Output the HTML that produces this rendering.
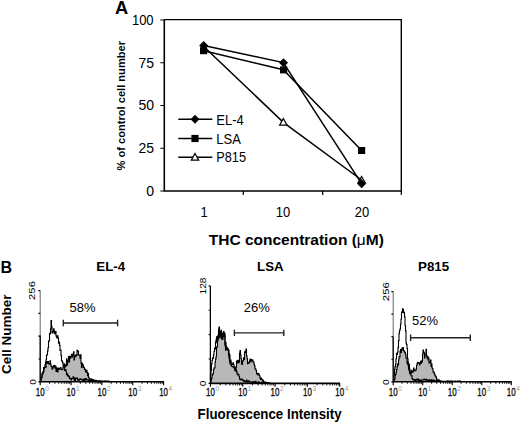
<!DOCTYPE html>
<html><head><meta charset="utf-8">
<style>
html,body{margin:0;padding:0;background:#fff;}
body{width:520px;height:422px;overflow:hidden;}
svg{display:block;}
text{font-family:"Liberation Sans",sans-serif;fill:#000;}
.b{font-weight:bold;}
</style></head><body>
<svg width="520" height="422" viewBox="0 0 520 422">
<!-- ===== Panel A ===== -->
<text x="114.9" y="14.2" class="b" font-size="18.3">A</text>
<!-- plot frame -->
<g stroke="#000" fill="none">
<path d="M164.3,19.6 H401.3 V191" stroke-width="1.4"/>
<path d="M164.3,19.4 V191 H401.3" stroke-width="1.6"/>
<path d="M160.3,20H164.3M160.3,62.75H164.3M160.3,105.5H164.3M160.3,148.25H164.3M160.3,191H164.3" stroke-width="1.1"/>
<path d="M243.3,191V195M322.7,191V195M401.3,191V195" stroke-width="1.2"/>
</g>
<g font-size="13" text-anchor="end">
<text transform="translate(153.6,24.9) scale(1,1.1)">100</text>
<text transform="translate(154.1,67.7) scale(1.08,1.1)">75</text>
<text transform="translate(154.1,110.4) scale(1.08,1.1)">50</text>
<text transform="translate(154.1,153.3) scale(1.08,1.1)">25</text>
<text transform="translate(154.1,196) scale(1.08,1.1)">0</text>
</g>
<g font-size="13" text-anchor="middle">
<text transform="translate(204,216.5) scale(1,1.1)">1</text>
<text transform="translate(283,216.5) scale(1,1.1)">10</text>
<text transform="translate(362,216.5) scale(1,1.1)">20</text>
</g>
<text x="296.3" y="245.2" class="b" font-size="15.5" text-anchor="middle">THC concentration (<tspan font-weight="normal">μ</tspan>M)</text>
<text transform="translate(124.9,105.7) rotate(-90)" class="b" font-size="11.1" text-anchor="middle">% of control cell number</text>
<!-- series lines -->
<g stroke="#000" stroke-width="1.5" fill="none">
<polyline points="203.7,45.6 283.3,62.6 361.6,183.7"/>
<polyline points="203.7,50.7 283.3,69.8 361.6,150.4"/>
<polyline points="203.7,46.5 283.3,122.3 361.6,180"/>
</g>
<!-- markers -->
<g fill="#000">
<path d="M203.7,41 L208.2,45.6 L203.7,50.2 L199.2,45.6Z"/>
<path d="M283.5,58.3 L288,62.8 L283.5,67.3 L279,62.8Z"/>
<path d="M361.6,179.3 L366,183.8 L361.6,188.3 L357.2,183.8Z"/>
<rect x="200" y="47.2" width="7.2" height="7"/>
<rect x="280" y="66.4" width="7.2" height="7"/>
<rect x="358" y="147" width="7.2" height="7"/>
</g>
<g fill="#fff" stroke="#000" stroke-width="1.2">
<path d="M283.3,118.5 L287,125.2 L279.6,125.2Z"/>
<path d="M361.6,176.5 L365.3,183 L357.9,183Z" fill="none"/>
</g>
<!-- legend -->
<g stroke="#000" stroke-width="1.5">
<path d="M178.3,119.2H212.3M178.3,138.5H212.3M178.3,157.3H212.3"/>
</g>
<path d="M195,114.7 L199.5,119.2 L195,123.7 L190.5,119.2Z" fill="#000"/>
<rect x="191.4" y="134.9" width="7.2" height="7.2" fill="#000"/>
<path d="M195,153.5 L198.7,160.2 L191.3,160.2Z" fill="#fff" stroke="#000" stroke-width="1.2"/>
<g font-size="13.4">
<text transform="translate(216.3,124.6) scale(0.97,1.08)">EL-4</text>
<text transform="translate(216.3,143.7) scale(0.97,1.08)">LSA</text>
<text transform="translate(216.3,162.3) scale(0.95,1.08)">P815</text>
</g>

<!-- ===== Panel B ===== -->
<text x="0.5" y="273.2" class="b" font-size="16">B</text>
<text transform="translate(11.2,334.2) rotate(-90)" class="b" font-size="13.5" text-anchor="middle">Cell Number</text>
<text transform="translate(269.6,418.6) scale(1,1.06)" class="b" font-size="13.3" text-anchor="middle">Fluorescence Intensity</text>
<g class="b" font-size="13.3" text-anchor="middle">
<text x="110.7" y="270.8">EL-4</text>
<text x="270.4" y="271.3">LSA</text>
<text x="433.6" y="271.2">P815</text>
</g>
<g font-size="13" text-anchor="middle">
<text x="82.5" y="311.8">58%</text>
<text x="256.7" y="312.2">26%</text>
<text x="425" y="325.2">52%</text>
</g>
<!-- gates -->
<g stroke="#222" stroke-width="1.4" fill="none">
<path d="M63.3,323H117.6M63.3,319.8V326.2M117.6,319.8V326.2"/>
<path d="M234.4,332.9H283.8M234.4,329.7V336.1M283.8,329.7V336.1"/>
<path d="M410.6,337.8H470.3M410.6,334.6V341M470.3,334.6V341"/>
</g>

<g id="hists">
<polygon points="40.5,381.8 40.5,380.47 41,380.47 41,377.69 41.5,377.69 41.5,377.35 42,377.35 42,373.42 42.5,373.42 42.5,373.25 43,373.25 43,371.68 43.5,371.68 43.5,367.44 44,367.44 44,368.14 44.5,368.14 44.5,367.09 45,367.09 45,364.67 45.5,364.67 45.5,362.31 46,362.31 46,363.41 46.5,363.41 46.5,361.54 47,361.54 47,363.25 47.5,363.25 47.5,361.69 48,361.69 48,361.51 48.5,361.51 48.5,363.67 49,363.67 49,364.29 49.5,364.29 49.5,363.59 50,363.59 50,360.69 50.5,360.69 50.5,364.26 51,364.26 51,366.26 51.5,366.26 51.5,366.4 52,366.4 52,369.3 52.5,369.3 52.5,368.13 53,368.13 53,366.95 53.5,366.95 53.5,365.47 54,365.47 54,366.96 54.5,366.96 54.5,365.58 55,365.58 55,368.27 55.5,368.27 55.5,366.42 56,366.42 56,371.37 56.5,371.37 56.5,371.43 57,371.43 57,368.02 57.5,368.02 57.5,371.93 58,371.93 58,367.98 58.5,367.98 58.5,368.58 59,368.58 59,369.4 59.5,369.4 59.5,368.41 60,368.41 60,368.33 60.5,368.33 60.5,367.67 61,367.67 61,369.29 61.5,369.29 61.5,369.76 62,369.76 62,369.37 62.5,369.37 62.5,369.08 63,369.08 63,367 63.5,367 63.5,367.22 64,367.22 64,363.82 64.5,363.82 64.5,367.43 65,367.43 65,365.65 65.5,365.65 65.5,364.79 66,364.79 66,365.88 66.5,365.88 66.5,358.89 67,358.89 67,365.03 67.5,365.03 67.5,360.88 68,360.88 68,360.63 68.5,360.63 68.5,356.51 69,356.51 69,362.19 69.5,362.19 69.5,356.36 70,356.36 70,358.48 70.5,358.48 70.5,356.61 71,356.61 71,356.99 71.5,356.99 71.5,354.23 72,354.23 72,357.25 72.5,357.25 72.5,355.1 73,355.1 73,354.15 73.5,354.15 73.5,351.82 74,351.82 74,359.83 74.5,359.83 74.5,355.9 75,355.9 75,355.8 75.5,355.8 75.5,356.65 76,356.65 76,354.64 76.5,354.64 76.5,355.4 77,355.4 77,350.41 77.5,350.41 77.5,351.41 78,351.41 78,350.93 78.5,350.93 78.5,354.92 79,354.92 79,355.25 79.5,355.25 79.5,355.52 80,355.52 80,358.4 80.5,358.4 80.5,354.82 81,354.82 81,363.17 81.5,363.17 81.5,367.42 82,367.42 82,363.39 82.5,363.39 82.5,364.79 83,364.79 83,365.3 83.5,365.3 83.5,367.35 84,367.35 84,367.9 84.5,367.9 84.5,369.39 85,369.39 85,369.37 85.5,369.37 85.5,371.53 86,371.53 86,372.27 86.5,372.27 86.5,370.38 87,370.38 87,372.54 87.5,372.54 87.5,375.7 88,375.7 88,373.38 88.5,373.38 88.5,377.37 89,377.37 89,378.84 89.5,378.84 89.5,379.58 90,379.58 90,378.81 90.5,378.81 90.5,379.95 91,379.95 91,380.36 91.5,380.36 91.5,380.6 92,380.6 92,380.27 92.5,380.27 92.5,379.54 93,379.54 93,380.44 93.5,380.44 93.5,381.02 94,381.02 94,380.23 94.5,380.23 94.5,380.7 95,380.7 95,380.57 95.5,380.57 95.5,380.65 96,380.65 96,381.26 96.5,381.26 96.5,381.31 97,381.31 97,381.31 97.5,381.31 97.5,381.72 98,381.72 98,381.14 98.5,381.14 98.5,380.95 99,380.95 99,381.39 99.5,381.39 99.5,381.56 100,381.56 100,381.8" fill="#b8b8b8" stroke="none"/>
<polyline points="40.5,381.8 40.5,380.47 41,380.47 41,377.69 41.5,377.69 41.5,377.35 42,377.35 42,373.42 42.5,373.42 42.5,373.25 43,373.25 43,371.68 43.5,371.68 43.5,367.44 44,367.44 44,368.14 44.5,368.14 44.5,367.09 45,367.09 45,364.67 45.5,364.67 45.5,362.31 46,362.31 46,363.41 46.5,363.41 46.5,361.54 47,361.54 47,363.25 47.5,363.25 47.5,361.69 48,361.69 48,361.51 48.5,361.51 48.5,363.67 49,363.67 49,364.29 49.5,364.29 49.5,363.59 50,363.59 50,360.69 50.5,360.69 50.5,364.26 51,364.26 51,366.26 51.5,366.26 51.5,366.4 52,366.4 52,369.3 52.5,369.3 52.5,368.13 53,368.13 53,366.95 53.5,366.95 53.5,365.47 54,365.47 54,366.96 54.5,366.96 54.5,365.58 55,365.58 55,368.27 55.5,368.27 55.5,366.42 56,366.42 56,371.37 56.5,371.37 56.5,371.43 57,371.43 57,368.02 57.5,368.02 57.5,371.93 58,371.93 58,367.98 58.5,367.98 58.5,368.58 59,368.58 59,369.4 59.5,369.4 59.5,368.41 60,368.41 60,368.33 60.5,368.33 60.5,367.67 61,367.67 61,369.29 61.5,369.29 61.5,369.76 62,369.76 62,369.37 62.5,369.37 62.5,369.08 63,369.08 63,367 63.5,367 63.5,367.22 64,367.22 64,363.82 64.5,363.82 64.5,367.43 65,367.43 65,365.65 65.5,365.65 65.5,364.79 66,364.79 66,365.88 66.5,365.88 66.5,358.89 67,358.89 67,365.03 67.5,365.03 67.5,360.88 68,360.88 68,360.63 68.5,360.63 68.5,356.51 69,356.51 69,362.19 69.5,362.19 69.5,356.36 70,356.36 70,358.48 70.5,358.48 70.5,356.61 71,356.61 71,356.99 71.5,356.99 71.5,354.23 72,354.23 72,357.25 72.5,357.25 72.5,355.1 73,355.1 73,354.15 73.5,354.15 73.5,351.82 74,351.82 74,359.83 74.5,359.83 74.5,355.9 75,355.9 75,355.8 75.5,355.8 75.5,356.65 76,356.65 76,354.64 76.5,354.64 76.5,355.4 77,355.4 77,350.41 77.5,350.41 77.5,351.41 78,351.41 78,350.93 78.5,350.93 78.5,354.92 79,354.92 79,355.25 79.5,355.25 79.5,355.52 80,355.52 80,358.4 80.5,358.4 80.5,354.82 81,354.82 81,363.17 81.5,363.17 81.5,367.42 82,367.42 82,363.39 82.5,363.39 82.5,364.79 83,364.79 83,365.3 83.5,365.3 83.5,367.35 84,367.35 84,367.9 84.5,367.9 84.5,369.39 85,369.39 85,369.37 85.5,369.37 85.5,371.53 86,371.53 86,372.27 86.5,372.27 86.5,370.38 87,370.38 87,372.54 87.5,372.54 87.5,375.7 88,375.7 88,373.38 88.5,373.38 88.5,377.37 89,377.37 89,378.84 89.5,378.84 89.5,379.58 90,379.58 90,378.81 90.5,378.81 90.5,379.95 91,379.95 91,380.36 91.5,380.36 91.5,380.6 92,380.6 92,380.27 92.5,380.27 92.5,379.54 93,379.54 93,380.44 93.5,380.44 93.5,381.02 94,381.02 94,380.23 94.5,380.23 94.5,380.7 95,380.7 95,380.57 95.5,380.57 95.5,380.65 96,380.65 96,381.26 96.5,381.26 96.5,381.31 97,381.31 97,381.31 97.5,381.31 97.5,381.72 98,381.72 98,381.14 98.5,381.14 98.5,380.95 99,380.95 99,381.39 99.5,381.39 99.5,381.56 100,381.56 100,381.8" fill="none" stroke="#000" stroke-width="1.1" stroke-linejoin="miter"/>
<polyline points="40.5,381.8 40.5,380.64 41,380.64 41,379.07 41.5,379.07 41.5,377.24 42,377.24 42,374.79 42.5,374.79 42.5,373.87 43,373.87 43,371.89 43.5,371.89 43.5,371.75 44,371.75 44,367.88 44.5,367.88 44.5,366.96 45,366.96 45,367.35 45.5,367.35 45.5,367.44 46,367.44 46,359.81 46.5,359.81 46.5,355.22 47,355.22 47,354.77 47.5,354.77 47.5,350.84 48,350.84 48,347.81 48.5,347.81 48.5,341.53 49,341.53 49,340.62 49.5,340.62 49.5,333.38 50,333.38 50,333.94 50.5,333.94 50.5,328.68 51,328.68 51,320.61 51.5,320.61 51.5,326.61 52,326.61 52,332.78 52.5,332.78 52.5,333.01 53,333.01 53,331.59 53.5,331.59 53.5,328.84 54,328.84 54,330.86 54.5,330.86 54.5,333.73 55,333.73 55,332.44 55.5,332.44 55.5,331.6 56,331.6 56,335.86 56.5,335.86 56.5,337.27 57,337.27 57,337.86 57.5,337.86 57.5,335.73 58,335.73 58,338.08 58.5,338.08 58.5,343.21 59,343.21 59,341.98 59.5,341.98 59.5,345.34 60,345.34 60,350.52 60.5,350.52 60.5,350.13 61,350.13 61,355.37 61.5,355.37 61.5,360.61 62,360.61 62,361.27 62.5,361.27 62.5,362.64 63,362.64 63,365.81 63.5,365.81 63.5,366.29 64,366.29 64,366.47 64.5,366.47 64.5,370.37 65,370.37 65,369.47 65.5,369.47 65.5,369.61 66,369.61 66,371.69 66.5,371.69 66.5,374.82 67,374.82 67,373.68 67.5,373.68 67.5,375.93 68,375.93 68,375.37 68.5,375.37 68.5,376.12 69,376.12 69,376.83 69.5,376.83 69.5,378.39 70,378.39 70,378.77 70.5,378.77 70.5,378.36 71,378.36 71,379.91 71.5,379.91 71.5,378.82 72,378.82 72,378.54 72.5,378.54 72.5,378.81 73,378.81 73,376.87 73.5,376.87 73.5,378.83 74,378.83 74,377.79 74.5,377.79 74.5,380.58 75,380.58 75,380.67 75.5,380.67 75.5,378.31 76,378.31 76,378.13 76.5,378.13 76.5,378.41 77,378.41 77,378.04 77.5,378.04 77.5,379.94 78,379.94 78,379.52 78.5,379.52 78.5,380.17 79,380.17 79,379.83 79.5,379.83 79.5,378.98 80,378.98 80,379.27 80.5,379.27 80.5,378.87 81,378.87 81,379.44 81.5,379.44 81.5,379.71 82,379.71 82,379.69 82.5,379.69 82.5,380.2 83,380.2 83,379.49 83.5,379.49 83.5,380.49 84,380.49 84,378.88 84.5,378.88 84.5,380.34 85,380.34 85,379.07 85.5,379.07 85.5,380.01 86,380.01 86,378.53 86.5,378.53 86.5,379.67 87,379.67 87,379.7 87.5,379.7 87.5,379.7 88,379.7 88,380.57 88.5,380.57 88.5,380.92 89,380.92 89,381.42 89.5,381.42 89.5,379.78 90,379.78 90,380.64 90.5,380.64 90.5,380.51 91,380.51 91,380.14 91.5,380.14 91.5,379 92,379 92,380.92 92.5,380.92 92.5,380.13 93,380.13 93,380.61 93.5,380.61 93.5,380.34 94,380.34 94,381.53 94.5,381.53 94.5,381.08 95,381.08 95,380.66 95.5,380.66 95.5,380.42 96,380.42 96,380.43 96.5,380.43 96.5,381.4 97,381.4 97,381.07 97.5,381.07 97.5,381.15 98,381.15 98,381.65 98.5,381.65 98.5,381.69 99,381.69 99,380.89 99.5,380.89 99.5,381.1 100,381.1 100,381.25 100.5,381.25 100.5,380.78 101,380.78 101,381.6 101.5,381.6 101.5,381.06 102,381.06 102,381.26 102.5,381.26 102.5,381.3 103,381.3 103,381.13 103.5,381.13 103.5,381.25 104,381.25 104,381.24 104.5,381.24 104.5,381.25 105,381.25 105,380.7 105.5,380.7 105.5,381.48 106,381.48 106,381.05 106.5,381.05 106.5,381.2 107,381.2 107,381.53 107.5,381.53 107.5,381.17 108,381.17 108,381.72 108.5,381.72 108.5,381.09 109,381.09 109,381.73 109.5,381.73 109.5,381.65 110,381.65 110,381.8" fill="none" stroke="#000" stroke-width="1.1" stroke-linejoin="miter"/>
<path d="M40.2,290.6V381.8" stroke="#666" stroke-width="1" fill="none"/>
<path d="M40.2,335.5V381.8" stroke="#000" stroke-width="1.2" fill="none"/>
<path d="M38.4,290.6H40.2M38.4,313.4H40.2M38.4,336.2H40.2M38.4,359H40.2M38.4,381.8H40.2" stroke="#000" stroke-width="1.2" fill="none"/>
<path d="M39.7,381.8H164" stroke="#000" stroke-width="1.6" fill="none"/>
<path d="M40.2,381.8V385.2M71.05,381.8V385.2M101.9,381.8V385.2M132.75,381.8V385.2M163.6,381.8V385.2" stroke="#000" stroke-width="1.1" fill="none"/>
<path d="M49.49,381.8V383.9M54.92,381.8V383.9M58.77,381.8V383.9M61.76,381.8V383.9M64.21,381.8V383.9M66.27,381.8V383.9M68.06,381.8V383.9M69.64,381.8V383.9M80.34,381.8V383.9M85.77,381.8V383.9M89.62,381.8V383.9M92.61,381.8V383.9M95.06,381.8V383.9M97.12,381.8V383.9M98.91,381.8V383.9M100.49,381.8V383.9M111.19,381.8V383.9M116.62,381.8V383.9M120.47,381.8V383.9M123.46,381.8V383.9M125.91,381.8V383.9M127.97,381.8V383.9M129.76,381.8V383.9M131.34,381.8V383.9M142.04,381.8V383.9M147.47,381.8V383.9M151.32,381.8V383.9M154.31,381.8V383.9M156.76,381.8V383.9M158.82,381.8V383.9M160.61,381.8V383.9M162.19,381.8V383.9" stroke="#000" stroke-width="0.85" fill="none"/>
<text transform="translate(40.2,395.8) scale(0.7,1)" font-size="11.4" text-anchor="middle" stroke="#000" stroke-width="0.3">10</text>
<text transform="translate(45.2,390.6) scale(0.85,1)" font-size="7.6" style="fill:#999">0</text>
<text transform="translate(71.05,395.8) scale(0.7,1)" font-size="11.4" text-anchor="middle" stroke="#000" stroke-width="0.3">10</text>
<text transform="translate(76.05,390.6) scale(0.85,1)" font-size="7.6" style="fill:#999">1</text>
<text transform="translate(101.9,395.8) scale(0.7,1)" font-size="11.4" text-anchor="middle" stroke="#000" stroke-width="0.3">10</text>
<text transform="translate(106.9,390.6) scale(0.85,1)" font-size="7.6" style="fill:#999">2</text>
<text transform="translate(132.75,395.8) scale(0.7,1)" font-size="11.4" text-anchor="middle" stroke="#000" stroke-width="0.3">10</text>
<text transform="translate(137.75,390.6) scale(0.85,1)" font-size="7.6" style="fill:#999">3</text>
<text transform="translate(163.6,395.8) scale(0.7,1)" font-size="11.4" text-anchor="middle" stroke="#000" stroke-width="0.3">10</text>
<text transform="translate(168.6,390.6) scale(0.85,1)" font-size="7.6" style="fill:#999">4</text>
<text transform="translate(35,290.5) rotate(-90) scale(1.25,1)" font-size="9.1" text-anchor="middle">256</text>
<text transform="translate(35.8,382) rotate(-90) scale(1.1,1)" font-size="9.2" text-anchor="middle">0</text>
<polygon points="210.5,383.4 210.5,382.34 211,382.34 211,380.31 211.5,380.31 211.5,378.14 212,378.14 212,375.7 212.5,375.7 212.5,374.52 213,374.52 213,373.25 213.5,373.25 213.5,369.46 214,369.46 214,368.11 214.5,368.11 214.5,367.77 215,367.77 215,362.06 215.5,362.06 215.5,359.16 216,359.16 216,356.2 216.5,356.2 216.5,347.58 217,347.58 217,346.45 217.5,346.45 217.5,340.08 218,340.08 218,335.1 218.5,335.1 218.5,336.83 219,336.83 219,328.3 219.5,328.3 219.5,337.67 220,337.67 220,331.89 220.5,331.89 220.5,334.43 221,334.43 221,331.44 221.5,331.44 221.5,339.31 222,339.31 222,337.47 222.5,337.47 222.5,333.63 223,333.63 223,332.69 223.5,332.69 223.5,336.54 224,336.54 224,333.34 224.5,333.34 224.5,335.88 225,335.88 225,344.41 225.5,344.41 225.5,342.31 226,342.31 226,349.18 226.5,349.18 226.5,347.88 227,347.88 227,347.73 227.5,347.73 227.5,348.51 228,348.51 228,349.65 228.5,349.65 228.5,355.23 229,355.23 229,358.44 229.5,358.44 229.5,355.28 230,355.28 230,364.06 230.5,364.06 230.5,362.08 231,362.08 231,364.1 231.5,364.1 231.5,366.09 232,366.09 232,366.56 232.5,366.56 232.5,366.43 233,366.43 233,366.98 233.5,366.98 233.5,367.12 234,367.12 234,367.72 234.5,367.72 234.5,368.35 235,368.35 235,369.97 235.5,369.97 235.5,368.93 236,368.93 236,367.25 236.5,367.25 236.5,360.98 237,360.98 237,363 237.5,363 237.5,360.72 238,360.72 238,360.29 238.5,360.29 238.5,362.62 239,362.62 239,361.99 239.5,361.99 239.5,353.09 240,353.09 240,350.59 240.5,350.59 240.5,354.92 241,354.92 241,358.46 241.5,358.46 241.5,363.7 242,363.7 242,364.45 242.5,364.45 242.5,361.32 243,361.32 243,360.5 243.5,360.5 243.5,357.73 244,357.73 244,359.49 244.5,359.49 244.5,352.32 245,352.32 245,351.34 245.5,351.34 245.5,352.61 246,352.61 246,348.95 246.5,348.95 246.5,355.87 247,355.87 247,358.82 247.5,358.82 247.5,363.73 248,363.73 248,362.26 248.5,362.26 248.5,362.76 249,362.76 249,363.01 249.5,363.01 249.5,361.06 250,361.06 250,359.05 250.5,359.05 250.5,361.8 251,361.8 251,359.59 251.5,359.59 251.5,359.72 252,359.72 252,360.63 252.5,360.63 252.5,360.14 253,360.14 253,362.27 253.5,362.27 253.5,362.17 254,362.17 254,364.36 254.5,364.36 254.5,366.1 255,366.1 255,368.69 255.5,368.69 255.5,369.05 256,369.05 256,370.45 256.5,370.45 256.5,373.96 257,373.96 257,373.19 257.5,373.19 257.5,373.52 258,373.52 258,375.04 258.5,375.04 258.5,373.57 259,373.57 259,375.24 259.5,375.24 259.5,375.96 260,375.96 260,378.09 260.5,378.09 260.5,379.44 261,379.44 261,378.05 261.5,378.05 261.5,379.21 262,379.21 262,379.5 262.5,379.5 262.5,380.28 263,380.28 263,380.31 263.5,380.31 263.5,381.7 264,381.7 264,381.73 264.5,381.73 264.5,382.7 265,382.7 265,383.4 265.5,383.4 265.5,382.82 266,382.82 266,382.24 266.5,382.24 266.5,383.4 267,383.4 267,383.4" fill="#b8b8b8" stroke="none"/>
<polyline points="210.5,383.4 210.5,382.34 211,382.34 211,380.31 211.5,380.31 211.5,378.14 212,378.14 212,375.7 212.5,375.7 212.5,374.52 213,374.52 213,373.25 213.5,373.25 213.5,369.46 214,369.46 214,368.11 214.5,368.11 214.5,367.77 215,367.77 215,362.06 215.5,362.06 215.5,359.16 216,359.16 216,356.2 216.5,356.2 216.5,347.58 217,347.58 217,346.45 217.5,346.45 217.5,340.08 218,340.08 218,335.1 218.5,335.1 218.5,336.83 219,336.83 219,328.3 219.5,328.3 219.5,337.67 220,337.67 220,331.89 220.5,331.89 220.5,334.43 221,334.43 221,331.44 221.5,331.44 221.5,339.31 222,339.31 222,337.47 222.5,337.47 222.5,333.63 223,333.63 223,332.69 223.5,332.69 223.5,336.54 224,336.54 224,333.34 224.5,333.34 224.5,335.88 225,335.88 225,344.41 225.5,344.41 225.5,342.31 226,342.31 226,349.18 226.5,349.18 226.5,347.88 227,347.88 227,347.73 227.5,347.73 227.5,348.51 228,348.51 228,349.65 228.5,349.65 228.5,355.23 229,355.23 229,358.44 229.5,358.44 229.5,355.28 230,355.28 230,364.06 230.5,364.06 230.5,362.08 231,362.08 231,364.1 231.5,364.1 231.5,366.09 232,366.09 232,366.56 232.5,366.56 232.5,366.43 233,366.43 233,366.98 233.5,366.98 233.5,367.12 234,367.12 234,367.72 234.5,367.72 234.5,368.35 235,368.35 235,369.97 235.5,369.97 235.5,368.93 236,368.93 236,367.25 236.5,367.25 236.5,360.98 237,360.98 237,363 237.5,363 237.5,360.72 238,360.72 238,360.29 238.5,360.29 238.5,362.62 239,362.62 239,361.99 239.5,361.99 239.5,353.09 240,353.09 240,350.59 240.5,350.59 240.5,354.92 241,354.92 241,358.46 241.5,358.46 241.5,363.7 242,363.7 242,364.45 242.5,364.45 242.5,361.32 243,361.32 243,360.5 243.5,360.5 243.5,357.73 244,357.73 244,359.49 244.5,359.49 244.5,352.32 245,352.32 245,351.34 245.5,351.34 245.5,352.61 246,352.61 246,348.95 246.5,348.95 246.5,355.87 247,355.87 247,358.82 247.5,358.82 247.5,363.73 248,363.73 248,362.26 248.5,362.26 248.5,362.76 249,362.76 249,363.01 249.5,363.01 249.5,361.06 250,361.06 250,359.05 250.5,359.05 250.5,361.8 251,361.8 251,359.59 251.5,359.59 251.5,359.72 252,359.72 252,360.63 252.5,360.63 252.5,360.14 253,360.14 253,362.27 253.5,362.27 253.5,362.17 254,362.17 254,364.36 254.5,364.36 254.5,366.1 255,366.1 255,368.69 255.5,368.69 255.5,369.05 256,369.05 256,370.45 256.5,370.45 256.5,373.96 257,373.96 257,373.19 257.5,373.19 257.5,373.52 258,373.52 258,375.04 258.5,375.04 258.5,373.57 259,373.57 259,375.24 259.5,375.24 259.5,375.96 260,375.96 260,378.09 260.5,378.09 260.5,379.44 261,379.44 261,378.05 261.5,378.05 261.5,379.21 262,379.21 262,379.5 262.5,379.5 262.5,380.28 263,380.28 263,380.31 263.5,380.31 263.5,381.7 264,381.7 264,381.73 264.5,381.73 264.5,382.7 265,382.7 265,383.4 265.5,383.4 265.5,382.82 266,382.82 266,382.24 266.5,382.24 266.5,383.4 267,383.4 267,383.4" fill="none" stroke="#000" stroke-width="1.1" stroke-linejoin="miter"/>
<polyline points="210.5,383.4 210.5,375 211,375 211,370.21 211.5,370.21 211.5,363.89 212,363.89 212,360.34 212.5,360.34 212.5,357.83 213,357.83 213,358.41 213.5,358.41 213.5,354.7 214,354.7 214,351.44 214.5,351.44 214.5,348.04 215,348.04 215,348.85 215.5,348.85 215.5,341.95 216,341.95 216,339.74 216.5,339.74 216.5,336.79 217,336.79 217,342.87 217.5,342.87 217.5,336.59 218,336.59 218,339 218.5,339 218.5,330.6 219,330.6 219,326.95 219.5,326.95 219.5,334.27 220,334.27 220,336.74 220.5,336.74 220.5,331.84 221,331.84 221,330.31 221.5,330.31 221.5,335.99 222,335.99 222,335.02 222.5,335.02 222.5,339.31 223,339.31 223,334.28 223.5,334.28 223.5,331.53 224,331.53 224,334.51 224.5,334.51 224.5,333.41 225,333.41 225,346.05 225.5,346.05 225.5,350.28 226,350.28 226,345.97 226.5,345.97 226.5,348.95 227,348.95 227,348.73 227.5,348.73 227.5,348.94 228,348.94 228,350.61 228.5,350.61 228.5,350.3 229,350.3 229,353.76 229.5,353.76 229.5,362.02 230,362.02 230,361.8 230.5,361.8 230.5,359.99 231,359.99 231,365.15 231.5,365.15 231.5,364.43 232,364.43 232,364.42 232.5,364.42 232.5,364.07 233,364.07 233,362.72 233.5,362.72 233.5,364.74 234,364.74 234,367.77 234.5,367.77 234.5,366.73 235,366.73 235,371.02 235.5,371.02 235.5,371.05 236,371.05 236,369.81 236.5,369.81 236.5,371.65 237,371.65 237,374.24 237.5,374.24 237.5,373.72 238,373.72 238,375.07 238.5,375.07 238.5,374.74 239,374.74 239,376.56 239.5,376.56 239.5,378.59 240,378.59 240,379.67 240.5,379.67 240.5,379.73 241,379.73 241,380.05 241.5,380.05 241.5,379.15 242,379.15 242,379.36 242.5,379.36 242.5,379.81 243,379.81 243,380.69 243.5,380.69 243.5,381.32 244,381.32 244,380.65 244.5,380.65 244.5,381.34 245,381.34 245,380.97 245.5,380.97 245.5,382.06 246,382.06 246,381.3 246.5,381.3 246.5,380.16 247,380.16 247,381.61 247.5,381.61 247.5,382.1 248,382.1 248,381.51 248.5,381.51 248.5,380.7 249,380.7 249,381.01 249.5,381.01 249.5,382.09 250,382.09 250,382.19 250.5,382.19 250.5,381.93 251,381.93 251,382.26 251.5,382.26 251.5,381.69 252,381.69 252,381.78 252.5,381.78 252.5,382.34 253,382.34 253,381.81 253.5,381.81 253.5,381.82 254,381.82 254,382.25 254.5,382.25 254.5,382.49 255,382.49 255,381.63 255.5,381.63 255.5,381.32 256,381.32 256,382.44 256.5,382.44 256.5,382.62 257,382.62 257,382.29 257.5,382.29 257.5,382.59 258,382.59 258,382.82 258.5,382.82 258.5,381.92 259,381.92 259,382.93 259.5,382.93 259.5,382.8 260,382.8 260,382.78 260.5,382.78 260.5,382.87 261,382.87 261,382.6 261.5,382.6 261.5,382.26 262,382.26 262,381.9 262.5,381.9 262.5,382.28 263,382.28 263,382.56 263.5,382.56 263.5,383.11 264,383.11 264,382.66 264.5,382.66 264.5,383.04 265,383.04 265,382.74 265.5,382.74 265.5,382.36 266,382.36 266,382.69 266.5,382.69 266.5,382.87 267,382.87 267,383.1 267.5,383.1 267.5,382.87 268,382.87 268,382.85 268.5,382.85 268.5,383.24 269,383.24 269,383.13 269.5,383.13 269.5,382.69 270,382.69 270,383.4" fill="none" stroke="#000" stroke-width="1.1" stroke-linejoin="miter"/>
<path d="M210.4,285.9V383.4" stroke="#666" stroke-width="1" fill="none"/>
<path d="M210.4,285.9V383.4" stroke="#000" stroke-width="1.2" fill="none"/>
<path d="M208.6,285.9H210.4M208.6,310.27H210.4M208.6,334.65H210.4M208.6,359.02H210.4M208.6,383.4H210.4" stroke="#000" stroke-width="1.2" fill="none"/>
<path d="M209.9,383.4H340.1" stroke="#000" stroke-width="1.6" fill="none"/>
<path d="M210.4,383.4V386.8M242.72,383.4V386.8M275.05,383.4V386.8M307.38,383.4V386.8M339.7,383.4V386.8" stroke="#000" stroke-width="1.1" fill="none"/>
<path d="M220.13,383.4V385.5M225.82,383.4V385.5M229.86,383.4V385.5M232.99,383.4V385.5M235.55,383.4V385.5M237.72,383.4V385.5M239.59,383.4V385.5M241.25,383.4V385.5M252.46,383.4V385.5M258.15,383.4V385.5M262.19,383.4V385.5M265.32,383.4V385.5M267.88,383.4V385.5M270.04,383.4V385.5M271.92,383.4V385.5M273.57,383.4V385.5M284.78,383.4V385.5M290.47,383.4V385.5M294.51,383.4V385.5M297.64,383.4V385.5M300.2,383.4V385.5M302.37,383.4V385.5M304.24,383.4V385.5M305.9,383.4V385.5M317.11,383.4V385.5M322.8,383.4V385.5M326.84,383.4V385.5M329.97,383.4V385.5M332.53,383.4V385.5M334.69,383.4V385.5M336.57,383.4V385.5M338.22,383.4V385.5" stroke="#000" stroke-width="0.85" fill="none"/>
<text transform="translate(210.4,395.8) scale(0.7,1)" font-size="11.4" text-anchor="middle" stroke="#000" stroke-width="0.3">10</text>
<text transform="translate(215.4,390.6) scale(0.85,1)" font-size="7.6" style="fill:#999">0</text>
<text transform="translate(242.72,395.8) scale(0.7,1)" font-size="11.4" text-anchor="middle" stroke="#000" stroke-width="0.3">10</text>
<text transform="translate(247.72,390.6) scale(0.85,1)" font-size="7.6" style="fill:#999">1</text>
<text transform="translate(275.05,395.8) scale(0.7,1)" font-size="11.4" text-anchor="middle" stroke="#000" stroke-width="0.3">10</text>
<text transform="translate(280.05,390.6) scale(0.85,1)" font-size="7.6" style="fill:#999">2</text>
<text transform="translate(307.38,395.8) scale(0.7,1)" font-size="11.4" text-anchor="middle" stroke="#000" stroke-width="0.3">10</text>
<text transform="translate(312.38,390.6) scale(0.85,1)" font-size="7.6" style="fill:#999">3</text>
<text transform="translate(339.7,395.8) scale(0.7,1)" font-size="11.4" text-anchor="middle" stroke="#000" stroke-width="0.3">10</text>
<text transform="translate(344.7,390.6) scale(0.85,1)" font-size="7.6" style="fill:#999">4</text>
<text transform="translate(206.2,286) rotate(-90) scale(1.17,1)" font-size="8.7" text-anchor="middle">128</text>
<text transform="translate(206.3,383.4) rotate(-90) scale(1.1,1)" font-size="9.2" text-anchor="middle">0</text>
<polygon points="393.5,381.8 393.5,381.57 394,381.57 394,379.88 394.5,379.88 394.5,379.18 395,379.18 395,375.75 395.5,375.75 395.5,374.39 396,374.39 396,372.14 396.5,372.14 396.5,369.72 397,369.72 397,366.89 397.5,366.89 397.5,364.05 398,364.05 398,365.06 398.5,365.06 398.5,359.84 399,359.84 399,356.64 399.5,356.64 399.5,356.95 400,356.95 400,351.37 400.5,351.37 400.5,349.67 401,349.67 401,352.46 401.5,352.46 401.5,349.19 402,349.19 402,348.04 402.5,348.04 402.5,349.95 403,349.95 403,347.56 403.5,347.56 403.5,350.62 404,350.62 404,351.15 404.5,351.15 404.5,352.09 405,352.09 405,352.83 405.5,352.83 405.5,354.91 406,354.91 406,358.23 406.5,358.23 406.5,358.13 407,358.13 407,363.57 407.5,363.57 407.5,361.58 408,361.58 408,365.35 408.5,365.35 408.5,369.23 409,369.23 409,370.49 409.5,370.49 409.5,373.19 410,373.19 410,373.85 410.5,373.85 410.5,372.24 411,372.24 411,372.63 411.5,372.63 411.5,370.4 412,370.4 412,371.88 412.5,371.88 412.5,372.15 413,372.15 413,371.54 413.5,371.54 413.5,368.06 414,368.06 414,369.87 414.5,369.87 414.5,370.43 415,370.43 415,370.65 415.5,370.65 415.5,370.54 416,370.54 416,369.01 416.5,369.01 416.5,365.5 417,365.5 417,363.63 417.5,363.63 417.5,362.42 418,362.42 418,362.56 418.5,362.56 418.5,363.19 419,363.19 419,363.02 419.5,363.02 419.5,364.87 420,364.87 420,362.45 420.5,362.45 420.5,361.38 421,361.38 421,363.28 421.5,363.28 421.5,360.71 422,360.71 422,361.94 422.5,361.94 422.5,354.03 423,354.03 423,350.12 423.5,350.12 423.5,351.93 424,351.93 424,352.71 424.5,352.71 424.5,357.85 425,357.85 425,354.37 425.5,354.37 425.5,354.67 426,354.67 426,349.35 426.5,349.35 426.5,356.06 427,356.06 427,357.99 427.5,357.99 427.5,356.27 428,356.27 428,359.91 428.5,359.91 428.5,358.01 429,358.01 429,362.99 429.5,362.99 429.5,361.79 430,361.79 430,362.97 430.5,362.97 430.5,360 431,360 431,366.39 431.5,366.39 431.5,364.01 432,364.01 432,368.02 432.5,368.02 432.5,368.68 433,368.68 433,371.89 433.5,371.89 433.5,371.98 434,371.98 434,372.9 434.5,372.9 434.5,374.27 435,374.27 435,375.71 435.5,375.71 435.5,376.29 436,376.29 436,377.17 436.5,377.17 436.5,379 437,379 437,380.19 437.5,380.19 437.5,380.5 438,380.5 438,379.71 438.5,379.71 438.5,380.52 439,380.52 439,380.12 439.5,380.12 439.5,380.85 440,380.85 440,381.8" fill="#b8b8b8" stroke="none"/>
<polyline points="393.5,381.8 393.5,381.57 394,381.57 394,379.88 394.5,379.88 394.5,379.18 395,379.18 395,375.75 395.5,375.75 395.5,374.39 396,374.39 396,372.14 396.5,372.14 396.5,369.72 397,369.72 397,366.89 397.5,366.89 397.5,364.05 398,364.05 398,365.06 398.5,365.06 398.5,359.84 399,359.84 399,356.64 399.5,356.64 399.5,356.95 400,356.95 400,351.37 400.5,351.37 400.5,349.67 401,349.67 401,352.46 401.5,352.46 401.5,349.19 402,349.19 402,348.04 402.5,348.04 402.5,349.95 403,349.95 403,347.56 403.5,347.56 403.5,350.62 404,350.62 404,351.15 404.5,351.15 404.5,352.09 405,352.09 405,352.83 405.5,352.83 405.5,354.91 406,354.91 406,358.23 406.5,358.23 406.5,358.13 407,358.13 407,363.57 407.5,363.57 407.5,361.58 408,361.58 408,365.35 408.5,365.35 408.5,369.23 409,369.23 409,370.49 409.5,370.49 409.5,373.19 410,373.19 410,373.85 410.5,373.85 410.5,372.24 411,372.24 411,372.63 411.5,372.63 411.5,370.4 412,370.4 412,371.88 412.5,371.88 412.5,372.15 413,372.15 413,371.54 413.5,371.54 413.5,368.06 414,368.06 414,369.87 414.5,369.87 414.5,370.43 415,370.43 415,370.65 415.5,370.65 415.5,370.54 416,370.54 416,369.01 416.5,369.01 416.5,365.5 417,365.5 417,363.63 417.5,363.63 417.5,362.42 418,362.42 418,362.56 418.5,362.56 418.5,363.19 419,363.19 419,363.02 419.5,363.02 419.5,364.87 420,364.87 420,362.45 420.5,362.45 420.5,361.38 421,361.38 421,363.28 421.5,363.28 421.5,360.71 422,360.71 422,361.94 422.5,361.94 422.5,354.03 423,354.03 423,350.12 423.5,350.12 423.5,351.93 424,351.93 424,352.71 424.5,352.71 424.5,357.85 425,357.85 425,354.37 425.5,354.37 425.5,354.67 426,354.67 426,349.35 426.5,349.35 426.5,356.06 427,356.06 427,357.99 427.5,357.99 427.5,356.27 428,356.27 428,359.91 428.5,359.91 428.5,358.01 429,358.01 429,362.99 429.5,362.99 429.5,361.79 430,361.79 430,362.97 430.5,362.97 430.5,360 431,360 431,366.39 431.5,366.39 431.5,364.01 432,364.01 432,368.02 432.5,368.02 432.5,368.68 433,368.68 433,371.89 433.5,371.89 433.5,371.98 434,371.98 434,372.9 434.5,372.9 434.5,374.27 435,374.27 435,375.71 435.5,375.71 435.5,376.29 436,376.29 436,377.17 436.5,377.17 436.5,379 437,379 437,380.19 437.5,380.19 437.5,380.5 438,380.5 438,379.71 438.5,379.71 438.5,380.52 439,380.52 439,380.12 439.5,380.12 439.5,380.85 440,380.85 440,381.8" fill="none" stroke="#000" stroke-width="1.1" stroke-linejoin="miter"/>
<polyline points="393.5,381.8 393.5,380.2 394,380.2 394,375.07 394.5,375.07 394.5,369.4 395,369.4 395,366.65 395.5,366.65 395.5,364.13 396,364.13 396,358.78 396.5,358.78 396.5,353.37 397,353.37 397,354.42 397.5,354.42 397.5,352.15 398,352.15 398,347.62 398.5,347.62 398.5,340.66 399,340.66 399,333.28 399.5,333.28 399.5,330.44 400,330.44 400,328.8 400.5,328.8 400.5,324.06 401,324.06 401,319.27 401.5,319.27 401.5,312 402,312 402,312.56 402.5,312.56 402.5,308.77 403,308.77 403,309.67 403.5,309.67 403.5,312.72 404,312.72 404,312.35 404.5,312.35 404.5,316.9 405,316.9 405,325.28 405.5,325.28 405.5,330.9 406,330.9 406,342.94 406.5,342.94 406.5,344.53 407,344.53 407,348.39 407.5,348.39 407.5,358.58 408,358.58 408,363.3 408.5,363.3 408.5,364.16 409,364.16 409,364.31 409.5,364.31 409.5,369.34 410,369.34 410,371.86 410.5,371.86 410.5,372.53 411,372.53 411,375.8 411.5,375.8 411.5,375.92 412,375.92 412,378.54 412.5,378.54 412.5,379.69 413,379.69 413,379.33 413.5,379.33 413.5,379.49 414,379.49 414,379.83 414.5,379.83 414.5,380.35 415,380.35 415,379.82 415.5,379.82 415.5,380.47 416,380.47 416,379.36 416.5,379.36 416.5,379.9 417,379.9 417,379.62 417.5,379.62 417.5,379.08 418,379.08 418,379.17 418.5,379.17 418.5,380.43 419,380.43 419,379.97 419.5,379.97 419.5,379.77 420,379.77 420,380.66 420.5,380.66 420.5,381.44 421,381.44 421,380.3 421.5,380.3 421.5,380.23 422,380.23 422,379.92 422.5,379.92 422.5,380.04 423,380.04 423,379.95 423.5,379.95 423.5,379.83 424,379.83 424,379.15 424.5,379.15 424.5,379.56 425,379.56 425,379.5 425.5,379.5 425.5,380.12 426,380.12 426,379.38 426.5,379.38 426.5,380.14 427,380.14 427,379.73 427.5,379.73 427.5,381.26 428,381.26 428,380.13 428.5,380.13 428.5,380.37 429,380.37 429,380.62 429.5,380.62 429.5,379.86 430,379.86 430,380.31 430.5,380.31 430.5,380.6 431,380.6 431,380.8 431.5,380.8 431.5,379.73 432,379.73 432,380.27 432.5,380.27 432.5,380.34 433,380.34 433,381 433.5,381 433.5,380.11 434,380.11 434,380.47 434.5,380.47 434.5,380.86 435,380.86 435,380.81 435.5,380.81 435.5,381.49 436,381.49 436,380.52 436.5,380.52 436.5,381.3 437,381.3 437,380.52 437.5,380.52 437.5,381.08 438,381.08 438,381.18 438.5,381.18 438.5,380.8 439,380.8 439,380.9 439.5,380.9 439.5,381.46 440,381.46 440,381.07 440.5,381.07 440.5,380.83 441,380.83 441,381.19 441.5,381.19 441.5,381.63 442,381.63 442,381.24 442.5,381.24 442.5,381.53 443,381.53 443,381.41 443.5,381.41 443.5,381.21 444,381.21 444,381.28 444.5,381.28 444.5,381.36 445,381.36 445,381.8 445.5,381.8 445.5,381.19 446,381.19 446,381.39 446.5,381.39 446.5,381.46 447,381.46 447,381.28 447.5,381.28 447.5,380.68 448,380.68 448,381.78 448.5,381.78 448.5,381.8 449,381.8 449,381.1 449.5,381.1 449.5,381.63 450,381.63 450,380.93 450.5,380.93 450.5,381.71 451,381.71 451,381.55 451.5,381.55 451.5,381.11 452,381.11 452,381.09 452.5,381.09 452.5,381.26 453,381.26 453,381.26 453.5,381.26 453.5,381.46 454,381.46 454,381.57 454.5,381.57 454.5,381.5 455,381.5 455,381.03 455.5,381.03 455.5,381.22 456,381.22 456,381.44 456.5,381.44 456.5,381.36 457,381.36 457,381.2 457.5,381.2 457.5,381.09 458,381.09 458,381.52 458.5,381.52 458.5,381.51 459,381.51 459,381.39 459.5,381.39 459.5,380.68 460,380.68 460,381.8" fill="none" stroke="#000" stroke-width="1.1" stroke-linejoin="miter"/>
<path d="M393.2,291.6V381.8" stroke="#666" stroke-width="1" fill="none"/>
<path d="M393.2,337V381.8" stroke="#000" stroke-width="1.2" fill="none"/>
<path d="M391.4,291.6H393.2M391.4,314.15H393.2M391.4,336.7H393.2M391.4,359.25H393.2M391.4,381.8H393.2" stroke="#000" stroke-width="1.2" fill="none"/>
<path d="M392.7,381.8H511.7" stroke="#000" stroke-width="1.6" fill="none"/>
<path d="M393.2,381.8V385.2M422.73,381.8V385.2M452.25,381.8V385.2M481.77,381.8V385.2M511.3,381.8V385.2" stroke="#000" stroke-width="1.1" fill="none"/>
<path d="M402.09,381.8V383.9M407.29,381.8V383.9M410.98,381.8V383.9M413.84,381.8V383.9M416.17,381.8V383.9M418.15,381.8V383.9M419.86,381.8V383.9M421.37,381.8V383.9M431.61,381.8V383.9M436.81,381.8V383.9M440.5,381.8V383.9M443.36,381.8V383.9M445.7,381.8V383.9M447.68,381.8V383.9M449.39,381.8V383.9M450.9,381.8V383.9M461.14,381.8V383.9M466.34,381.8V383.9M470.03,381.8V383.9M472.89,381.8V383.9M475.22,381.8V383.9M477.2,381.8V383.9M478.91,381.8V383.9M480.42,381.8V383.9M490.66,381.8V383.9M495.86,381.8V383.9M499.55,381.8V383.9M502.41,381.8V383.9M504.75,381.8V383.9M506.73,381.8V383.9M508.44,381.8V383.9M509.95,381.8V383.9" stroke="#000" stroke-width="0.85" fill="none"/>
<text transform="translate(393.2,395.8) scale(0.7,1)" font-size="11.4" text-anchor="middle" stroke="#000" stroke-width="0.3">10</text>
<text transform="translate(398.2,390.6) scale(0.85,1)" font-size="7.6" style="fill:#999">0</text>
<text transform="translate(422.73,395.8) scale(0.7,1)" font-size="11.4" text-anchor="middle" stroke="#000" stroke-width="0.3">10</text>
<text transform="translate(427.73,390.6) scale(0.85,1)" font-size="7.6" style="fill:#999">1</text>
<text transform="translate(452.25,395.8) scale(0.7,1)" font-size="11.4" text-anchor="middle" stroke="#000" stroke-width="0.3">10</text>
<text transform="translate(457.25,390.6) scale(0.85,1)" font-size="7.6" style="fill:#999">2</text>
<text transform="translate(481.77,395.8) scale(0.7,1)" font-size="11.4" text-anchor="middle" stroke="#000" stroke-width="0.3">10</text>
<text transform="translate(486.77,390.6) scale(0.85,1)" font-size="7.6" style="fill:#999">3</text>
<text transform="translate(511.3,395.8) scale(0.7,1)" font-size="11.4" text-anchor="middle" stroke="#000" stroke-width="0.3">10</text>
<text transform="translate(516.3,390.6) scale(0.85,1)" font-size="7.6" style="fill:#999">4</text>
<text transform="translate(388.7,291.7) rotate(-90) scale(1.25,1)" font-size="9.1" text-anchor="middle">256</text>
<text transform="translate(388.8,382.2) rotate(-90) scale(1.1,1)" font-size="9.2" text-anchor="middle">0</text>
</g>
</svg>
</body></html>
